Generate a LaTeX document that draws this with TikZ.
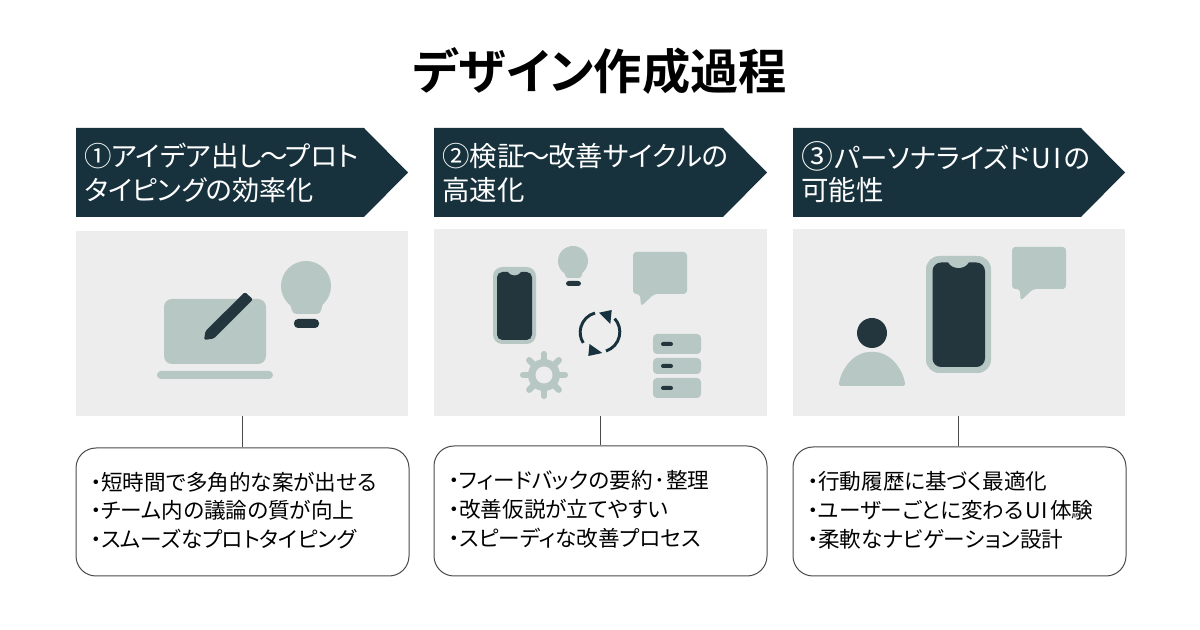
\documentclass[tikz,border=0pt]{standalone}
\usepackage{fontspec}
\setmainfont[RawFeature=+palt]{Noto Sans CJK JP}
\newfontfamily\jpb[RawFeature=+palt]{Noto Sans CJK JP Bold}
\definecolor{hdr}{HTML}{17323D}
\definecolor{ink}{HTML}{23363E}
\definecolor{sage}{HTML}{B7C7C4}
\definecolor{panel}{HTML}{EDEDED}
\definecolor{edge}{HTML}{4A4A4A}
\newcommand{\hfont}{\fontsize{20.6pt}{24pt}\selectfont}
\newcommand{\bfont}{\fontsize{16.2pt}{20pt}\selectfont}
\newcommand{\bul}{\makebox[7.5pt][c]{・}}
\newcommand{\nsim}{\kern-1.5pt ～\kern-1.5pt }
\tikzset{
  x=0.75pt,y=-0.75pt,
  headtxt/.style={anchor=west,inner sep=0pt,text=white,font=\hfont},
  bodytxt/.style={anchor=west,inner sep=0pt,text=black,font=\bfont},
  callout/.style={draw=edge,line width=0.75pt,fill=white,rounded corners=15pt},
  link/.style={draw=edge,line width=0.75pt},
  lite/.style={fill=sage},
  dark/.style={fill=ink},
}
\begin{document}
\begin{tikzpicture}
\useasboundingbox (0,0) rectangle (1200,630);
\fill[white] (0,0) rectangle (1200,630);
\node[inner sep=0pt,text=black,font=\fontsize{36.2pt}{40pt}\selectfont] (title) at (600,71) {\jpb デザイン作成過程};

% chevrons
\fill[hdr] (76,128) -- (364,128) -- (408,172.5) -- (364,217) -- (76,217) -- cycle;
\fill[hdr] (434,128) -- (723,128) -- (767,172.5) -- (723,217) -- (434,217) -- cycle;
\fill[hdr] (793,128) -- (1081,128) -- (1125,172.5) -- (1081,217) -- (793,217) -- cycle;
\node[headtxt] (h1a) at (84,156) {①アイデア出し\nsim プロト};
\node[headtxt] (h1b) at (84,190) {\fontsize{20.4pt}{24pt}\selectfont タイピングの効率化};
\node[headtxt] (h2a) at (442,156) {②検証\nsim 改善サイクルの};
\node[headtxt] (h2b) at (442,190) {高速化};
\node[headtxt] (h3a) at (801,156) {\scalebox{1.16}{③}\kern1pt パーソナライズド\kern1pt U\kern1.2pt I\kern1.8pt の};
\node[headtxt] (h3b) at (801,190) {可能性};

% panels
\path[fill=panel] (76,231) rectangle (408,416);
\path[fill=panel] (434,229) rectangle (767,416);
\path[fill=panel] (793,229) rectangle (1125,416);
\coordinate (p1) at (242,416);
\coordinate (p2) at (600.5,416);
\coordinate (p3) at (958.5,416);

% callouts
\node[callout,minimum width=249.75pt,minimum height=96pt,inner sep=0pt] (c1) at (242.5,512) {};
\node[callout,minimum width=249.75pt,minimum height=97.5pt,inner sep=0pt] (c2) at (600.5,511) {};
\node[callout,minimum width=249.75pt,minimum height=96.75pt,inner sep=0pt] (c3) at (959.5,511.5) {};
\draw[link] (p1) -- (p1 |- c1.north);
\draw[link] (p2) -- (p2 |- c2.north);
\draw[link] (p3) -- (p3 |- c3.north);

\node[bodytxt] (b1a) at (91,482) {\bul 短時間で多角的な案が出せる};
\node[bodytxt] (b1b) at (91,510) {\bul チーム内の議論の質が向上};
\node[bodytxt] (b1c) at (91,539) {\bul スムーズなプロトタイピング};
\node[bodytxt] (b2a) at (449,480) {\bul フィードバックの要約\kern1pt ･\kern1pt 整理};
\node[bodytxt] (b2b) at (449,509) {\bul 改善仮説が立てやすい};
\node[bodytxt] (b2c) at (449,538) {\bul スピーディな改善プロセス};
\node[bodytxt] (b3a) at (808,481) {\bul 行動履歴に基づく最適化};
\node[bodytxt] (b3b) at (808,510) {\bul ユーザーごとに変わる\kern1pt U\kern1pt I\kern1.5pt 体験};
\node[bodytxt] (b3c) at (808,539) {\bul 柔軟なナビゲーション設計};

% panel 1 icons
\fill[lite,rounded corners=6pt] (164,299) rectangle (266,364);
\fill[lite,rounded corners=3pt] (157,371) rectangle (273,379);
\fill[dark,rounded corners=1.2pt] (204,340) -- (205.5,331) -- (245,292) -- (253,299.5) -- (214,338.5) -- cycle;
\fill[lite] (306,286) circle[radius=25];
\fill[lite,rounded corners=3pt] (287,298) -- (325,298) -- (322,306) -- (320.5,314) -- (292.5,314) -- (291,306) -- cycle;
\fill[dark,rounded corners=3pt] (294,319) rectangle (319,328);

% panel 2 icons
\fill[lite,rounded corners=7pt] (493,267) rectangle (536,344);
\fill[dark,rounded corners=4pt] (497,272) rectangle (532,340);
\fill[lite] (508,272) .. controls (511,276.5) and (518,276.5) .. (521,272) -- (521,270) -- (508,270) -- cycle;
\fill[lite] (573,261) circle[radius=15];
\fill[lite,rounded corners=1.5pt] (562,269) -- (584,269) -- (582,273) -- (581.5,278) -- (565.5,278) -- (565,273) -- cycle;
\fill[dark,rounded corners=2pt] (566,281) rectangle (581,286);
\fill[lite,rounded corners=2.5pt] (633,252) -- (687,252) -- (687,294) -- (654,294) -- (641,306.5) -- (640,294) -- (633,294) -- cycle;
% cycle arrows
\draw[draw=hdr,line width=2.2pt] (595,313) arc[start angle=-105,end angle=-212,radius=20];
\fill[hdr] (602.3,353) -- (588.3,356) -- (589.5,344) -- cycle;
\draw[draw=hdr,line width=2.2pt] (606,351) arc[start angle=72,end angle=-42,radius=20];
\fill[hdr] (599,312.7) -- (611.7,310) -- (610.3,324) -- cycle;
% gear
\foreach \a in {0,45,...,315}{\draw[sage,line width=4.6pt,line cap=round] (544,375) -- ++({\a}:{21});}
\fill[sage] (544,375) circle[radius=16];
\fill[panel] (544,375) circle[radius=8.5];
% servers
\fill[lite,rounded corners=3pt] (653,334) rectangle (701,354);
\fill[lite,rounded corners=3pt] (653,358) rectangle (701,374);
\fill[lite,rounded corners=3pt] (653,378) rectangle (701,398);
\fill[dark,rounded corners=1.5pt] (661,342) rectangle (673,346);
\fill[dark,rounded corners=1.5pt] (661,364) rectangle (673,368);
\fill[dark,rounded corners=1.5pt] (661,386) rectangle (673,390);

% panel 3 icons
\fill[lite,rounded corners=10pt] (926,256) rectangle (991,373);
\fill[dark,rounded corners=6.5pt] (932.5,262.5) rectangle (985,367);
\fill[lite] (948,262) .. controls (952,270) and (965,270) .. (969,262) -- (969,260) -- (948,260) -- cycle;
\fill[lite,rounded corners=2.5pt] (1012,247) -- (1066,247) -- (1066,289) -- (1033,289) -- (1020.5,301) -- (1020,289) -- (1012,289) -- cycle;
\fill[dark] (872,333) circle[radius=15];
\fill[lite,rounded corners=2pt] (838.5,386) .. controls (842,366) and (856,352) .. (872,352) .. controls (888,352) and (902,366) .. (905.5,386) -- cycle;
\end{tikzpicture}
\end{document}
